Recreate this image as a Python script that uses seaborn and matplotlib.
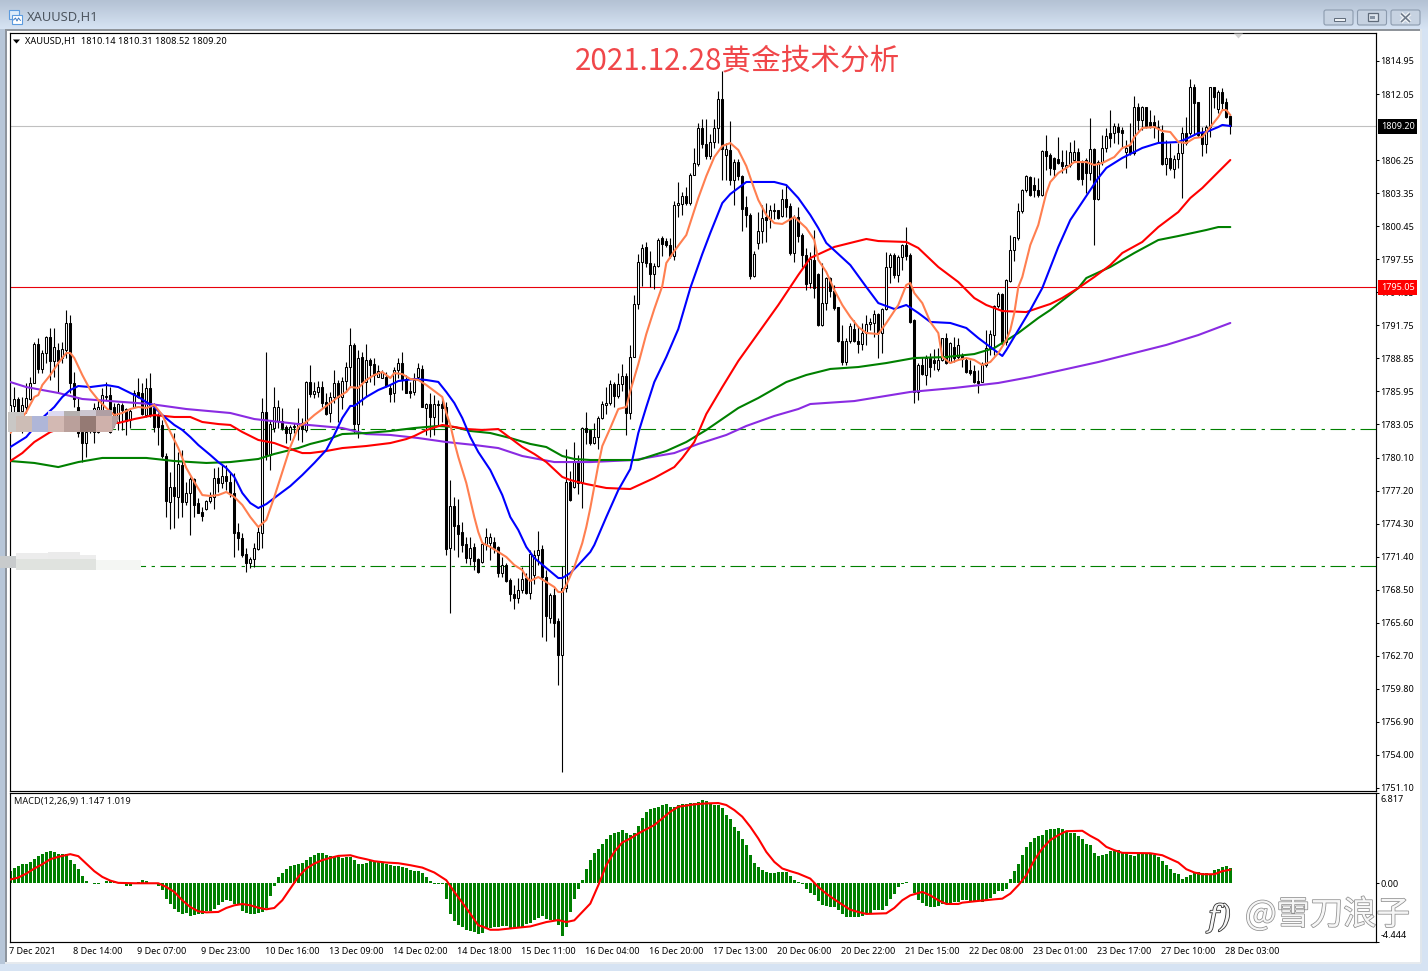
import numpy as np
import pandas as pd
import matplotlib
matplotlib.use("Agg")
import matplotlib.pyplot as plt
import matplotlib.patheffects as pe
from matplotlib.patches import Rectangle, Polygon, FancyBboxPatch
from matplotlib.transforms import ScaledTranslation
import seaborn as sns

# ---- hourly XAUUSD candles ----
opens = [
 1783.99,1784.64,1785.25,1784.20,1784.58,1785.25,1786.69,1790.05,1787.89,1789.26,
 1790.67,1788.62,1789.56,1788.82,1789.56,1791.90,1786.63,1784.58,1782.38,1781.35,
 1782.53,1782.38,1782.38,1784.28,1785.46,1785.60,1784.58,1783.26,1784.72,1784.34,
 1783.40,1784.58,1785.90,1785.75,1783.84,1786.19,1784.43,1783.84,1782.97,1780.24,
 1776.23,1777.49,1776.67,1779.45,1776.17,1776.96,1778.19,1776.08,1775.32,1775.58,
 1776.32,1776.61,1778.28,1777.84,1778.51,1777.99,1776.96,1773.59,1773.01,1771.60,
 1770.81,1771.16,1772.04,1773.45,1784.14,1780.33,1782.67,1783.35,1783.35,1782.76,
 1782.23,1782.82,1782.58,1783.17,1782.52,1786.71,1785.69,1785.89,1786.33,1784.96,
 1784.05,1785.39,1786.62,1785.39,1786.86,1788.03,1790.02,1783.05,1788.91,1786.77,
 1788.68,1788.32,1787.21,1787.06,1787.15,1786.19,1785.75,1787.80,1788.38,1786.98,
 1785.95,1785.89,1787.21,1787.88,1784.43,1784.81,1783.64,1784.81,1784.81,1784.52,
 1772.13,1775.85,1774.18,1773.59,1772.51,1771.25,1772.21,1771.16,1770.95,1772.51,
 1772.62,1772.71,1772.21,1769.99,1770.66,1769.34,1768.11,1767.73,1768.46,1769.49,
 1768.17,1769.78,1771.54,1772.03,1769.61,1765.98,1767.99,1765.78,1762.75,1768.68,
 1777.95,1777.55,1779.69,1777.87,1782.71,1782.51,1781.42,1781.90,1783.60,1784.73,
 1784.93,1786.54,1785.53,1786.54,1787.27,1784.00,1788.96,1793.60,1797.31,1798.64,
 1797.23,1796.22,1796.90,1799.36,1799.16,1798.76,1797.83,1802.27,1802.39,1803.07,
 1802.47,1804.97,1805.89,1809.04,1807.63,1806.58,1807.79,1809.04,1811.62,1806.70,
 1807.10,1804.48,1806.10,1804.81,1802.14,1801.46,1796.02,1798.92,1800.05,1801.26,
 1801.06,1801.86,1801.86,1801.34,1802.79,1802.21,1798.11,1801.27,1799.66,1797.90,
 1795.41,1797.46,1796.23,1791.75,1793.65,1795.85,1794.77,1793.30,1790.37,1788.53,
 1790.37,1791.37,1790.37,1790.08,1791.02,1791.84,1791.95,1792.72,1791.02,1793.13,
 1796.88,1797.90,1796.14,1797.75,1798.78,1797.90,1792.19,1785.89,1788.23,1787.36,
 1788.82,1788.67,1787.86,1788.67,1790.58,1788.53,1789.85,1788.97,1789.11,1788.67,
 1787.80,1787.71,1786.86,1786.77,1788.23,1789.70,1790.87,1793.42,1794.47,1790.29,
 1795.65,1798.34,1799.37,1801.80,1803.61,1804.78,1804.05,1803.61,1803.18,1807.04,
 1806.69,1806.40,1806.31,1806.11,1805.67,1805.81,1806.25,1806.98,1806.11,1806.25,
 1805.08,1807.19,1802.80,1806.11,1807.28,1808.65,1808.59,1809.12,1808.89,1806.98,
 1807.57,1806.84,1810.88,1809.77,1810.88,1809.62,1809.62,1809.03,1808.65,1805.90,
 1806.40,1805.49,1806.31,1806.90,1808.65,1808.59,1812.64,1811.32,1808.74,1807.66,
 1809.18,1812.64,1810.70,1812.26,1811.32,1810.14]
highs = [
 1785.46,1786.33,1785.46,1785.46,1786.63,1787.21,1790.29,1790.58,1789.56,1790.79,
 1791.46,1791.46,1790.14,1790.29,1793.07,1792.63,1787.65,1785.46,1782.82,1782.67,
 1784.28,1784.87,1785.16,1786.19,1786.77,1786.33,1784.87,1784.87,1784.87,1784.43,
 1784.43,1786.04,1787.07,1786.63,1787.07,1787.51,1784.87,1783.99,1783.40,1780.48,
 1778.87,1782.23,1780.62,1780.77,1777.99,1778.43,1778.28,1776.52,1775.79,1776.38,
 1777.11,1779.16,1779.30,1779.45,1779.45,1778.72,1778.72,1774.33,1773.45,1772.13,
 1771.40,1772.57,1774.03,1785.31,1789.41,1783.40,1786.33,1785.16,1784.43,1782.97,
 1782.97,1783.11,1784.43,1783.55,1786.83,1788.24,1786.77,1786.86,1786.86,1785.75,
 1785.89,1787.80,1786.92,1787.21,1788.53,1791.46,1790.20,1789.55,1789.41,1790.08,
 1788.82,1788.82,1788.24,1787.80,1787.65,1786.48,1788.09,1788.82,1789.41,1787.36,
 1786.77,1787.50,1788.38,1788.24,1784.87,1785.75,1785.60,1785.16,1785.31,1785.01,
 1778.13,1776.67,1776.43,1774.47,1773.15,1773.15,1772.57,1771.25,1772.71,1773.88,
 1773.44,1773.15,1772.33,1771.39,1770.81,1769.49,1768.90,1769.49,1770.51,1769.93,
 1771.98,1771.98,1773.68,1772.43,1770.21,1768.20,1768.60,1765.98,1770.61,1780.90,
 1778.88,1781.50,1780.37,1782.75,1784.12,1782.55,1783.11,1783.72,1785.05,1786.34,
 1786.94,1786.74,1787.55,1788.36,1787.55,1789.97,1794.40,1798.03,1798.84,1799.04,
 1798.23,1797.23,1799.44,1799.56,1799.44,1799.44,1802.67,1804.28,1803.48,1803.88,
 1805.09,1807.31,1809.52,1809.81,1809.81,1808.52,1809.81,1812.35,1814.05,1807.71,
 1809.72,1806.30,1806.30,1804.97,1803.07,1801.58,1798.23,1801.66,1802.27,1802.47,
 1802.27,1802.47,1801.90,1803.68,1804.08,1802.44,1801.42,1802.15,1799.80,1798.49,
 1798.19,1800.10,1796.29,1797.17,1796.00,1796.00,1795.26,1793.36,1791.75,1790.58,
 1791.95,1792.19,1791.60,1791.90,1792.63,1792.34,1793.07,1792.78,1793.21,1798.19,
 1798.05,1798.05,1797.90,1798.83,1800.39,1798.05,1792.24,1788.38,1788.97,1789.11,
 1789.26,1789.64,1789.70,1790.63,1791.08,1790.29,1790.72,1790.58,1789.26,1788.82,
 1788.67,1788.23,1787.80,1788.53,1791.31,1791.31,1793.51,1794.68,1794.53,1795.76,
 1799.66,1799.51,1802.44,1803.67,1804.93,1804.84,1804.73,1804.64,1807.13,1808.45,
 1806.84,1806.54,1808.30,1807.13,1807.13,1807.86,1808.01,1807.28,1806.25,1806.40,
 1809.91,1807.28,1806.25,1808.45,1809.03,1810.65,1809.47,1809.47,1809.18,1808.01,
 1809.47,1811.88,1811.23,1811.00,1810.94,1810.65,1810.21,1809.77,1809.33,1808.01,
 1807.72,1806.69,1807.72,1809.12,1810.06,1813.34,1812.93,1811.38,1809.18,1809.33,
 1812.70,1812.70,1812.40,1812.55,1811.67,1810.31]
lows = [
 1783.26,1783.70,1783.55,1782.23,1783.99,1785.16,1786.63,1787.51,1787.51,1788.38,
 1786.92,1787.21,1785.75,1788.38,1788.82,1785.75,1784.58,1781.94,1779.74,1780.18,
 1782.23,1781.35,1782.23,1783.99,1785.16,1782.29,1782.82,1782.53,1782.53,1782.09,
 1782.67,1784.43,1785.31,1783.84,1783.70,1783.70,1782.38,1781.21,1780.04,1774.91,
 1773.80,1773.89,1774.76,1774.91,1775.94,1773.30,1774.91,1775.20,1774.56,1775.50,
 1776.08,1775.56,1777.11,1777.40,1777.25,1776.67,1771.40,1771.98,1771.40,1770.08,
 1770.37,1770.52,1771.98,1772.13,1779.89,1779.01,1782.38,1782.67,1782.53,1781.35,
 1781.65,1782.23,1781.65,1781.50,1782.38,1785.39,1785.31,1785.45,1784.52,1783.84,
 1783.26,1784.87,1783.26,1784.34,1785.89,1786.33,1782.23,1781.79,1784.72,1785.45,
 1786.77,1786.48,1787.15,1787.06,1786.33,1785.01,1785.01,1787.06,1786.04,1785.75,
 1785.31,1785.60,1786.92,1784.52,1782.08,1781.94,1782.08,1782.96,1783.26,1771.54,
 1766.41,1771.98,1771.39,1771.83,1770.81,1770.66,1770.22,1769.93,1770.81,1771.98,
 1771.10,1771.69,1769.64,1769.64,1769.20,1767.53,1766.77,1767.29,1768.17,1768.11,
 1767.64,1768.99,1770.66,1764.36,1763.96,1765.57,1764.36,1760.13,1752.47,1768.28,
 1776.26,1777.47,1776.86,1775.65,1781.30,1781.18,1781.30,1780.90,1783.52,1783.92,
 1784.73,1784.52,1785.33,1785.94,1782.11,1783.52,1788.90,1793.19,1795.21,1796.82,
 1795.13,1794.89,1796.82,1797.83,1798.64,1797.63,1797.43,1801.26,1801.46,1802.27,
 1802.27,1804.89,1805.69,1807.31,1806.30,1806.30,1807.31,1807.71,1804.48,1804.48,
 1804.08,1802.27,1804.48,1799.97,1800.37,1795.81,1795.94,1798.44,1798.92,1799.04,
 1800.25,1801.06,1801.06,1801.26,1801.26,1797.90,1797.32,1799.07,1796.88,1794.83,
 1794.97,1794.09,1791.66,1791.66,1793.07,1794.24,1793.07,1790.29,1788.23,1788.23,
 1790.14,1790.29,1789.26,1789.55,1789.99,1791.31,1790.72,1788.82,1789.26,1793.07,
 1795.41,1795.85,1795.56,1796.58,1797.46,1791.90,1784.87,1785.16,1787.36,1786.48,
 1787.21,1787.80,1787.74,1788.62,1788.32,1788.38,1788.53,1788.67,1788.09,1787.50,
 1787.36,1786.62,1785.80,1786.71,1788.09,1789.11,1789.11,1793.21,1789.99,1789.99,
 1795.56,1797.40,1799.22,1801.56,1803.47,1803.09,1803.03,1803.03,1803.09,1805.37,
 1804.93,1804.79,1805.90,1805.08,1805.08,1805.67,1806.11,1804.49,1804.05,1803.32,
 1804.49,1798.78,1802.74,1805.81,1806.98,1807.42,1807.72,1807.66,1807.42,1805.52,
 1806.69,1806.69,1808.89,1808.89,1809.03,1809.03,1808.16,1807.86,1805.81,1804.93,
 1805.37,1804.64,1805.52,1802.88,1807.57,1808.45,1808.45,1808.30,1806.60,1806.90,
 1808.30,1810.79,1810.35,1810.65,1809.91,1808.52]
closes = [
 1784.72,1785.25,1783.70,1784.72,1785.31,1786.69,1790.05,1787.89,1789.26,1790.67,
 1788.62,1789.79,1788.62,1789.61,1791.90,1786.63,1785.22,1782.23,1781.35,1782.38,
 1783.84,1784.43,1784.58,1785.60,1785.54,1782.38,1783.11,1784.78,1784.28,1783.35,
 1784.20,1785.75,1785.46,1783.93,1786.19,1783.84,1782.76,1782.82,1780.24,1776.32,
 1777.55,1776.73,1779.54,1776.17,1776.96,1778.19,1775.94,1775.26,1774.97,1776.32,
 1776.61,1778.28,1777.84,1778.51,1778.07,1776.96,1773.50,1773.01,1771.54,1770.81,
 1771.16,1772.13,1773.53,1784.14,1780.33,1783.05,1784.52,1784.52,1782.67,1782.23,
 1782.76,1782.90,1783.17,1782.58,1786.71,1785.69,1785.95,1786.33,1784.93,1783.93,
 1785.39,1786.62,1785.39,1786.86,1788.03,1789.96,1783.05,1788.82,1786.77,1788.68,
 1788.24,1787.36,1787.74,1787.65,1786.42,1785.69,1787.80,1788.38,1786.98,1785.80,
 1785.75,1786.92,1787.94,1784.57,1784.81,1783.64,1784.81,1784.69,1784.43,1772.07,
 1775.85,1774.12,1773.39,1772.42,1771.25,1772.13,1771.04,1770.08,1772.51,1773.09,
 1773.09,1772.13,1769.99,1770.66,1769.28,1768.11,1767.73,1768.46,1769.43,1768.17,
 1771.63,1771.54,1771.98,1769.61,1766.18,1767.99,1765.57,1762.75,1768.68,1777.95,
 1776.34,1779.69,1777.87,1782.71,1782.39,1781.42,1781.90,1783.60,1784.81,1784.93,
 1786.54,1785.53,1786.54,1787.27,1784.00,1788.96,1793.60,1797.31,1798.52,1797.23,
 1796.22,1796.90,1799.24,1798.84,1798.76,1797.83,1802.27,1802.47,1803.07,1802.47,
 1804.97,1806.02,1809.04,1807.63,1806.58,1807.79,1809.04,1811.62,1807.22,1807.22,
 1804.48,1806.10,1804.81,1801.98,1801.46,1796.10,1798.03,1799.97,1801.18,1800.94,
 1801.86,1801.74,1801.18,1802.79,1802.14,1798.05,1801.21,1799.60,1797.90,1795.35,
 1797.52,1794.97,1791.75,1793.65,1795.85,1794.77,1793.21,1790.37,1788.53,1790.37,
 1791.66,1790.37,1790.08,1791.08,1791.84,1792.04,1792.72,1791.02,1793.13,1796.88,
 1797.90,1796.14,1797.75,1798.78,1797.81,1792.04,1785.89,1788.23,1787.44,1788.82,
 1788.09,1788.38,1788.67,1790.58,1788.38,1790.14,1788.82,1789.99,1788.73,1787.65,
 1787.50,1786.77,1786.68,1788.29,1789.70,1790.96,1793.42,1794.47,1790.29,1795.70,
 1798.34,1799.45,1801.80,1803.61,1804.84,1803.17,1803.61,1803.17,1807.04,1806.60,
 1805.52,1805.43,1805.96,1805.72,1805.81,1806.98,1806.98,1804.55,1804.55,1805.08,
 1807.19,1802.80,1806.11,1807.28,1808.36,1808.16,1809.24,1808.74,1808.59,1807.28,
 1806.84,1810.88,1809.77,1810.88,1809.24,1809.24,1809.18,1809.18,1805.90,1806.40,
 1805.52,1806.31,1806.90,1808.59,1807.72,1812.64,1811.29,1808.45,1807.66,1809.18,
 1812.64,1811.82,1812.26,1811.29,1810.06,1809.20]

# ---- moving averages, sampled at their turning bars ----
orange_bars = [0,4,6,7,8,10,12,14,15,16,18,20,22,24,26,28,30,32,34,36,38,40,42,44,46,48,50,52,54,56,58,60,62,64,66,68,70,72,74,76,78,80,82,84,85,87,89,91,93,95,96,98,100,102,104,106,108,109,110,111,112,113,114,115,116,117,118,120,122,124,126,128,129,130,132,134,136,137,138,139,141,143,144,145,147,148,150,152,154,155,157,159,161,163,164,166,169,172,174,176,178,180,182,184,186,187,189,191,193,196,199,201,202,204,206,208,210,212,214,217,219,222,224,225,226,228,230,232,233,235,237,239,241,243,245,247,249,250,251,252,253,255,257,259,260,262,264,266,269,271,273,276,278,280,281,283,286,288,290,292,294,296,298,300,302,303,304,305]
orange_vals = [1782.26,1784.11,1785.43,1785.60,1786.48,1787.36,1788.41,1789.29,1789.29,1788.85,1787.36,1786.04,1785.16,1784.46,1783.84,1784.02,1784.37,1784.55,1784.46,1784.72,1783.84,1782.35,1780.94,1779.19,1777.96,1776.81,1776.73,1776.81,1777.08,1776.64,1775.94,1774.88,1774.00,1774.62,1776.64,1778.84,1781.03,1782.79,1783.23,1783.84,1784.37,1784.90,1785.43,1785.87,1786.30,1786.22,1786.92,1787.36,1787.62,1787.09,1787.53,1787.44,1787.01,1786.92,1786.48,1785.95,1785.43,1784.02,1782.97,1781.47,1780.15,1779.01,1777.87,1776.38,1774.88,1773.56,1772.60,1772.25,1771.81,1771.37,1770.66,1770.22,1769.61,1769.26,1769.61,1769.17,1768.73,1768.29,1768.29,1768.91,1770.49,1772.60,1774.00,1775.67,1779.45,1781.12,1782.70,1784.37,1784.55,1785.95,1788.32,1790.96,1793.16,1795.18,1797.20,1798.25,1799.66,1802.91,1804.84,1806.51,1807.48,1807.74,1807.13,1805.72,1803.70,1802.74,1801.42,1800.71,1800.63,1801.24,1800.27,1799.22,1797.47,1796.41,1794.83,1793.51,1792.46,1791.58,1791.05,1790.96,1791.93,1793.51,1795.27,1795.44,1794.56,1793.68,1792.02,1791.05,1788.94,1788.41,1788.68,1788.85,1788.68,1788.24,1788.50,1789.29,1790.43,1791.31,1792.81,1795.09,1795.97,1798.78,1800.54,1803.35,1804.32,1805.11,1805.55,1806.07,1806.07,1805.81,1805.99,1806.51,1807.30,1807.57,1808.27,1809.06,1809.15,1808.80,1808.71,1807.83,1807.74,1808.18,1808.27,1809.15,1810.03,1810.64,1810.64,1810.20]

blue_bars = [0,4,8,11,13,15,17,20,24,27,30,32,36,38,41,43,45,47,50,52,54,56,58,60,62,64,66,68,70,73,76,79,81,83,85,86,89,92,95,97,101,104,107,109,111,113,115,117,120,123,125,127,129,131,134,137,138,140,142,145,146,149,152,155,157,159,161,164,167,170,173,175,178,180,184,186,191,194,197,200,202,204,210,214,217,221,224,227,230,235,239,242,245,248,249,252,255,258,262,265,268,272,274,278,283,287,292,294,297,299,302,303,305]
blue_vals = [1781.03,1781.91,1783.58,1784.55,1785.43,1786.04,1786.39,1786.30,1786.48,1786.30,1785.78,1785.43,1784.55,1783.84,1782.97,1782.53,1781.91,1781.21,1780.33,1779.71,1779.19,1778.40,1776.99,1776.11,1775.67,1776.02,1776.55,1777.08,1777.60,1778.57,1779.63,1780.77,1782.09,1783.58,1784.64,1784.64,1785.43,1786.04,1786.48,1786.83,1787.01,1786.92,1786.75,1785.87,1784.90,1783.58,1781.91,1780.59,1779.01,1776.81,1774.88,1773.74,1772.25,1771.28,1770.40,1769.52,1769.52,1769.96,1770.66,1771.81,1772.42,1774.88,1777.25,1779.10,1782.26,1784.55,1786.74,1788.94,1791.40,1795.00,1797.99,1799.84,1802.47,1803.26,1804.32,1804.32,1804.32,1804.05,1802.91,1801.42,1800.27,1798.96,1797.02,1795.09,1793.68,1793.16,1793.51,1792.81,1792.02,1791.93,1791.49,1790.61,1789.82,1789.03,1789.55,1791.31,1793.07,1795.00,1798.61,1800.98,1802.56,1804.67,1805.55,1806.43,1807.31,1807.75,1807.83,1808.10,1808.62,1808.71,1809.15,1809.33,1809.24]

red_bars = [0,3,6,10,15,20,27,31,36,41,45,48,52,55,58,62,66,70,73,75,79,83,89,95,99,101,104,108,111,114,118,122,125,128,131,134,138,140,144,149,155,161,166,168,171,174,178,182,187,192,197,200,206,211,214,217,224,227,232,237,241,244,248,254,257,260,263,267,271,275,278,283,287,292,295,298,302,305]
red_vals = [1779.80,1780.50,1781.47,1782.35,1782.97,1783.32,1783.14,1783.49,1783.84,1783.67,1783.67,1783.23,1783.05,1782.97,1782.35,1781.65,1781.38,1780.86,1780.50,1780.50,1780.68,1780.94,1781.12,1781.38,1781.73,1782.00,1782.52,1782.97,1782.79,1782.61,1782.53,1782.61,1781.82,1781.03,1780.42,1779.71,1778.40,1778.13,1777.78,1777.43,1777.34,1778.31,1779.27,1780.07,1781.47,1783.93,1786.30,1788.59,1791.05,1793.51,1796.15,1797.64,1798.61,1799.05,1799.31,1799.13,1799.05,1798.52,1796.85,1795.53,1794.12,1793.51,1792.98,1792.89,1793.25,1793.60,1794.13,1795.00,1795.97,1797.02,1798.08,1799.05,1800.36,1801.68,1802.91,1803.79,1805.20,1806.25]

green_bars = [0,6,12,17,23,34,41,49,55,62,66,70,72,75,79,83,89,95,101,107,111,115,120,125,130,134,138,141,145,157,164,169,174,182,187,194,199,205,212,219,226,234,241,246,252,257,260,267,269,275,281,287,292,299,302,305]
green_vals = [1779.80,1779.63,1779.27,1779.71,1780.07,1780.07,1779.80,1779.63,1779.71,1779.98,1780.42,1780.77,1780.94,1781.30,1781.65,1782.17,1782.26,1782.44,1782.70,1782.88,1782.79,1782.44,1782.26,1781.82,1781.30,1781.03,1780.24,1779.98,1779.89,1779.89,1780.68,1781.47,1782.53,1784.46,1785.34,1786.74,1787.36,1787.89,1788.06,1788.41,1788.85,1788.94,1789.20,1789.73,1791.05,1792.37,1793.07,1795.00,1795.88,1796.85,1798.08,1799.22,1799.57,1800.10,1800.36,1800.36]

purple_bars = [0,4,12,18,25,35,44,55,61,72,83,89,95,102,109,116,122,128,136,145,156,166,172,179,184,191,197,200,211,225,236,247,255,272,289,297,305]
purple_vals = [1786.74,1786.30,1785.78,1785.25,1785.07,1784.81,1784.37,1784.02,1783.49,1783.05,1782.70,1782.17,1782.09,1781.82,1781.47,1781.21,1780.94,1780.24,1779.71,1779.71,1779.89,1780.50,1781.30,1782.09,1782.88,1783.76,1784.37,1784.81,1785.07,1785.87,1786.22,1786.66,1787.18,1788.50,1790.00,1790.87,1791.93]

# ---- MACD(12,26,9) ----
macd_hist = [
 .91,1.13,1.28,1.43,1.48,1.58,1.81,2.06,2.21,2.36,2.42,2.36,2.19,2.19,2.24,1.74,1.43,1.06,.55,.15,
 .05,-.08,-.03,.05,.20,.23,.18,.03,-.05,-.18,-.23,.05,.13,.23,.15,.03,-.05,-.23,-.53,-1.16,
 -1.58,-1.96,-2.19,-2.31,-2.26,-2.47,-2.36,-2.31,-2.31,-2.11,-2.06,-1.96,-1.66,-1.41,-1.23,-1.33,-1.53,-1.66,-2.11,-2.21,
 -2.31,-2.31,-2.24,-2.16,-1.86,-.98,-.20,.45,.81,1.11,1.28,1.41,1.48,1.56,1.74,1.99,2.11,2.26,2.26,2.16,
 2.06,2.01,1.99,1.91,1.96,1.96,1.76,1.43,1.48,1.53,1.66,1.66,1.66,1.61,1.48,1.36,1.28,1.28,1.23,1.16,
 1.01,.91,.96,.75,.45,.20,-.03,-.05,-.08,-1.16,-2.34,-2.87,-3.17,-3.32,-3.55,-3.60,-3.70,-3.82,
 -3.75,-3.35,-3.35,-3.30,-3.27,-3.19,-3.25,-3.42,-3.37,-3.27,-3.32,-3.04,-2.97,-2.79,-2.59,-2.49,-2.69,-2.79,-2.79,-3.17,
 -3.97,-3.32,-2.16,-1.16,-.40,.23,1.11,1.76,2.26,2.57,2.94,3.32,3.62,3.75,3.87,4.00,3.75,3.62,3.75,4.30,
 4.93,5.38,5.56,5.64,5.74,5.89,5.99,5.76,5.74,5.89,5.94,5.94,6.01,6.01,6.09,6.26,6.19,6.04,5.89,5.89,
 5.64,5.13,4.81,4.25,3.92,3.32,2.87,2.11,1.51,1.23,.98,.86,.78,.81,.86,.86,.86,.55,.28,.10,
 -.05,-.40,-.73,-.91,-1.36,-1.61,-1.71,-1.79,-1.79,-2.04,-2.29,-2.57,-2.57,-2.54,-2.54,-2.47,-2.29,-2.29,-2.04,-2.04,
 -2.04,-1.71,-1.16,-.78,-.28,-.08,.08,.03,-.70,-1.28,-1.46,-1.71,-1.79,-1.79,-1.71,-1.56,-1.53,-1.46,-1.41,-1.41,
 -1.28,-1.28,-1.33,-1.33,-1.36,-1.41,-1.28,-1.08,-.83,-.60,-.55,-.40,.30,.91,1.43,2.11,2.72,3.07,3.37,3.57,
 3.65,4.00,4.05,4.08,4.15,4.10,3.87,3.82,3.82,3.57,3.30,2.99,2.87,2.26,2.06,2.09,2.24,2.42,2.44,2.47,
 2.29,2.26,2.11,2.06,2.26,2.26,2.29,2.26,2.16,1.99,1.66,1.36,1.06,.81,.68,.35,.45,.60,.86,.88,
 .81,.75,.73,1.03,1.11,1.26,1.28,1.147]
signal_bars = [0,2,4,6,8,10,12,15,17,19,21,23,25,27,31,37,39,41,43,45,47,49,52,54,56,58,60,62,64,66,68,70,72,74,76,78,80,82,85,87,89,91,94,97,100,103,106,109,111,113,115,117,118,120,122,126,130,134,137,139,141,143,145,147,149,151,153,155,157,161,163,165,167,171,174,177,179,181,183,185,187,189,191,193,195,197,200,202,204,206,208,210,212,214,219,221,223,225,228,230,232,234,237,238,242,246,248,250,252,254,256,258,260,262,264,268,270,272,274,276,278,285,288,292,294,296,298,301,303,305]
signal_vals = [.28,.43,.73,1.11,1.43,1.81,1.99,2.19,2.04,1.48,.91,.48,.20,.03,0,0,-.28,-.65,-1.28,-1.79,-2.11,-2.19,-2.16,-1.86,-1.66,-1.56,-1.66,-1.84,-1.96,-1.86,-1.28,-.40,.48,1.11,1.48,1.74,1.91,2.06,2.11,1.94,1.81,1.66,1.56,1.51,1.36,1.18,.81,.23,-.65,-1.46,-2.29,-3.17,-3.25,-3.50,-3.50,-3.37,-3.25,-2.92,-2.77,-2.92,-2.79,-2.16,-1.53,-.15,1.36,2.36,3.07,3.37,3.75,4.38,4.88,5.38,5.76,5.94,6.01,6.04,5.89,5.51,5.01,4.25,3.37,2.36,1.61,1.11,.91,.73,.35,-.28,-.78,-1.21,-1.61,-1.99,-2.16,-2.31,-2.26,-1.86,-1.28,-.91,-.65,-.91,-1.28,-1.56,-1.56,-1.46,-1.33,-1.21,-1.16,-.78,-.15,.60,1.74,2.62,3.25,3.62,3.92,3.95,3.57,3.25,2.74,2.49,2.29,2.26,2.11,1.56,1.06,.81,.68,.68,.91,1.019]

# ---- scale labels ----
price_ticks = [1814.95,1812.05,1806.25,1803.35,1800.45,1797.55,1794.65,1791.75,1788.85,1785.95,1783.05,1780.10,1777.20,1774.30,1771.40,1768.50,1765.60,1762.70,1759.80,1756.90,1754.00,1751.10]
time_labels = ["7 Dec 2021","8 Dec 14:00","9 Dec 07:00","9 Dec 23:00","10 Dec 16:00","13 Dec 09:00","14 Dec 02:00","14 Dec 18:00","15 Dec 11:00","16 Dec 04:00","16 Dec 20:00","17 Dec 13:00","20 Dec 06:00","20 Dec 22:00","21 Dec 15:00","22 Dec 08:00","23 Dec 01:00","23 Dec 17:00","27 Dec 10:00","28 Dec 03:00"]
macd_ticks = [6.817, 0.0, -4.444]
macd_tick_labels = ["6.817", "0.00", "-4.444"]
last_price = 1809.20
alert_price = 1795.05
resistance_price = 1782.61
support_price = 1770.58

sns.set_style("white")
plt.rcParams["font.family"] = ["Noto Sans", "Noto Sans CJK SC", "DejaVu Sans"]

W, H = 1428, 971
fig = plt.figure(figsize=(W / 100, H / 100), dpi=100, facecolor="white")


def px_axes(left, top, right, bottom, **kw):
    return fig.add_axes([left / W, 1 - bottom / H, (right - left) / W, (bottom - top) / H], **kw)


def nudge(label, dx_px, dy_px):
    # shift a tick label by whole pixels, y measured upward
    label.set_transform(label.get_transform() + ScaledTranslation(dx_px / 100, dy_px / 100, fig.dpi_scale_trans))


# Window frame drawn behind the chart panels
frame = px_axes(0, 0, W, H, zorder=-1)
frame.imshow(np.linspace(0, 1, 30)[:, None], extent=(0, W, 29, 0), aspect="auto",
             cmap=matplotlib.colors.LinearSegmentedColormap.from_list("bar", ["#B4C2D4", "#D6E3F3"]))
frame.set_xlim(0, W)
frame.set_ylim(H, 0)
frame.axis("off")
for x, y, w, h, c in [(0, 29, 5, 942, "#B7C6D8"), (5, 29, 1.5, 934, "#8E959E"),
                      (1421, 29, 7, 942, "#D6E3F3"), (0, 964, W, 7, "#D6E3F3"),
                      (5, 29, 1416, 2, "#8F949A"), (5, 962, 1416, 2, "#E6EAEE"),
                      (1420, 29, 1.5, 934, "#E0E6EC")]:
    frame.add_patch(Rectangle((x, y), w, h, fc=c, ec="none"))

# Price panel
ax = px_axes(9.5, 33, 1376, 790.5)
bars = np.arange(len(opens))
candles = pd.DataFrame({"bar": bars, "open": opens, "high": highs, "low": lows, "close": closes})
up = candles[candles["close"] >= candles["open"]]
down = candles[candles["close"] < candles["open"]]
ax.vlines(candles["bar"], candles["low"], candles["high"], color="black", lw=0.8, zorder=2)
ax.bar(up["bar"], up["close"] - up["open"], bottom=up["open"], width=0.45,
       facecolor="white", edgecolor="black", linewidth=0.75, zorder=3)
ax.bar(down["bar"], down["open"] - down["close"], bottom=down["close"], width=0.45,
       facecolor="black", edgecolor="black", linewidth=0.75, zorder=3)

ax.axhline(last_price, color="#C0C0C0", lw=0.8, zorder=1)
ax.axhline(alert_price, color="#E8000B", lw=0.8, zorder=1)
for level in (resistance_price, support_price):
    ax.axhline(level, color="#008000", lw=0.8, ls=(0, (14, 5, 3, 5)), zorder=1)

line_width = 1.5
for xs, ys, colour in [(purple_bars, purple_vals, "#8A2BE2"),
                       (green_bars, green_vals, "#008000"),
                       (red_bars, red_vals, "#FF0000"),
                       (blue_bars, blue_vals, "#0000FF"),
                       (orange_bars, orange_vals, "#FF7F50")]:
    frame_data = pd.DataFrame({"bar": xs, "price": ys})
    sns.lineplot(data=frame_data, x="bar", y="price", color=colour, lw=line_width,
                 ax=ax, zorder=4, estimator=None)

ax.set_xlim((9.5 - 10.3) / 4, (1376 - 10.3) / 4)
ax.set_ylim(1750.85, 1817.41)
ax.set_xlabel("")
ax.set_ylabel("")
ax.set_xticks([])
ax.yaxis.tick_right()
ax.set_yticks(price_ticks)
ax.set_yticklabels([f"{t:.2f}" for t in price_ticks], fontsize=6.5, color="black")
ax.tick_params(axis="y", length=2.2, width=0.75, pad=1, color="black")

for price, colour in [(last_price, "black"), (alert_price, "#FF0000")]:
    ax.text(1.0036, price, f"{price:.2f}", transform=ax.get_yaxis_transform(), fontsize=6.5,
            color="white", va="center", ha="left", zorder=6, clip_on=False,
            bbox=dict(boxstyle="square,pad=0.3", fc=colour, ec="none"))

# MACD panel
ax2 = px_axes(9.5, 792.7, 1376, 942.3)
hist = pd.DataFrame({"bar": bars, "macd": macd_hist})
sns.barplot(data=hist, x="bar", y="macd", native_scale=True, orient="x", width=0.75,
            color="#007F00", saturation=1, errorbar=None, linewidth=0, ax=ax2, zorder=2)
sns.lineplot(x=signal_bars, y=signal_vals, color="#FF0000", lw=line_width, ax=ax2, zorder=4, estimator=None)
ax2.set_xlim((9.5 - 10.3) / 4, (1376 - 10.3) / 4)
ax2.set_ylim(-4.444, 6.817)
ax2.set_xlabel("")
ax2.set_ylabel("")
ax2.yaxis.tick_right()
ax2.set_yticks(macd_ticks)
ax2.set_yticklabels(macd_tick_labels, fontsize=6.5, color="black")
ax2.set_xticks(np.arange(len(time_labels)) * 16)
ax2.set_xticklabels(time_labels, fontsize=6.5, color="black", ha="left")
ax2.tick_params(axis="both", length=2.2, width=0.75, pad=1, color="black")
ax2.tick_params(axis="x", pad=1.5)
macd_labels = ax2.get_yticklabels()
macd_labels[0].set_va("top")
macd_labels[2].set_va("bottom")
nudge(macd_labels[0], 0, -2)
nudge(macd_labels[2], 0, 2)
for lab in ax2.get_xticklabels():
    nudge(lab, -1, 0)
for a in (ax, ax2):
    for side in a.spines.values():
        side.set_visible(True)
        side.set_color("black")
        side.set_linewidth(0.85)

# Everything that sits on top of the panels
top = px_axes(0, 0, W, H, zorder=10)
top.patch.set_alpha(0)
top.set_xlim(0, W)
top.set_ylim(H, 0)
top.axis("off")

top.text(27, 17.5, "XAUUSD,H1", fontsize=9.3, color="#4E5660", va="center", ha="left")
top.add_patch(Rectangle((8.5, 10), 10, 9, fc="#DCEBFA", ec="#5C9BDF", lw=0.8))
top.add_patch(Rectangle((12, 15), 10, 9, fc="white", ec="#5C9BDF", lw=0.8))
top.plot([13.5, 15.5, 17, 18.5, 20.5], [20, 18, 21, 18, 20.5], color="#3C78C0", lw=0.7)

for bx in (1323, 1356.5, 1390):
    top.add_patch(FancyBboxPatch((bx + 1, 10), 29, 15, boxstyle="round,pad=0,rounding_size=2",
                                 fc="#C6D2E1", ec="#8C9BAE", lw=0.8))
top.add_patch(Rectangle((1334, 18), 11, 3.5, fc="#EEF2F6", ec="#5F6B7A", lw=0.7))
top.add_patch(Rectangle((1367.5, 13.5), 10, 8, fc="#DDE5EE", ec="#5F6B7A", lw=0.9))
top.add_patch(Rectangle((1370, 16), 5, 3, fc="#8693A3", ec="none"))
top.plot([1401, 1410], [13.5, 22], color="#F2F5F8", lw=3, solid_capstyle="butt")
top.plot([1401, 1410], [22, 13.5], color="#F2F5F8", lw=3, solid_capstyle="butt")
top.plot([1401, 1410], [13.5, 22], color="#6E7A89", lw=1.2, solid_capstyle="butt")
top.plot([1401, 1410], [22, 13.5], color="#6E7A89", lw=1.2, solid_capstyle="butt")

top.add_patch(Polygon([(13, 39.5), (20, 39.5), (16.5, 43.5)], fc="black", ec="none"))
top.add_patch(Polygon([(1234, 33.5), (1243, 33.5), (1238.5, 38.5)], fc="#D4D4D4", ec="none"))
top.text(25, 41.5, f"XAUUSD,H1  {opens[-1]:.2f} {highs[-1]:.2f} {lows[-1]:.2f} {closes[-1]:.2f}",
         fontsize=6.65, color="black", va="center", ha="left")
top.text(14, 801.5, "MACD(12,26,9) 1.147 1.019", fontsize=6.65, color="#111111", va="center", ha="left")
top.text(737, 61, "2021.12.28黄金技术分析", fontsize=21.3, color="#F0474A", va="center", ha="center",
         family=["Noto Sans CJK SC", "DejaVu Sans"])

# Mosaic smudges over the left edge of the chart
mosaic_upper = [(8, 24, 412, 20, "#C9C7C5"), (16, 32, 416, 16, "#CDBDB6"), (32, 48, 416, 16, "#AFB6D8"),
                (48, 64, 416, 16, "#D3B9B3"), (64, 80, 416, 16, "#BAA09B"), (80, 96, 416, 16, "#957A74"),
                (96, 112, 416, 16, "#CFB1AB"), (48, 64, 411, 5, "#DCD9F0"), (64, 80, 411, 5, "#B5B0AF"),
                (80, 96, 410, 6, "#CCC6D0"), (96, 112, 410, 6, "#B09FA4")]
for x0, x1, y0, h, c in mosaic_upper:
    top.add_patch(Rectangle((x0, y0), x1 - x0, h, fc=c, ec="none"))
top.add_patch(Polygon([(112, 416), (119, 416), (119, 419), (112, 432)], fc="#B5A0A0", ec="none"))
mosaic_lower = [(0, 16, 556, 12, "#C8CBCC"), (16, 96, 559, 11, "#E0E3DF"), (16, 48, 553, 6, "#ECECEC"),
                (48, 80, 552, 7, "#EBEBEB"), (80, 96, 555, 4, "#EDEDED"), (96, 141, 560, 10, "#F4F6F3")]
for x0, x1, y0, h, c in mosaic_lower:
    top.add_patch(Rectangle((x0, y0), x1 - x0, h, fc=c, ec="none"))

# Embossed account mark
emboss = [pe.withStroke(linewidth=1.1, foreground="#8F8F8F")]
top.text(1245, 915, "@雪刀浪子", fontsize=24, color="#F6F6F6", va="center", ha="left",
         family=["Noto Sans CJK SC", "DejaVu Sans"], path_effects=emboss)
top.text(1208, 918, "f)", fontsize=22, color="#F6F6F6", va="center", ha="left", style="italic",
         family="DejaVu Serif", path_effects=[pe.withStroke(linewidth=1.2, foreground="#333333")])

fig.savefig("out.png", dpi=100, facecolor="white")
